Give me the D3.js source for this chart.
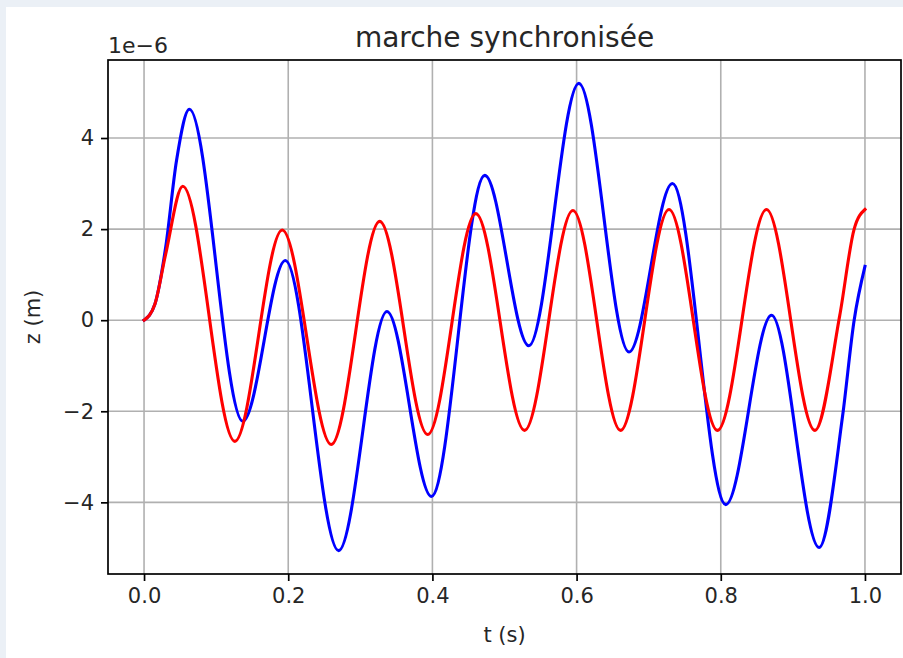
<!DOCTYPE html>
<html>
<head>
<meta charset="utf-8">
<script src="https://cdn.jsdelivr.net/npm/d3@7"></script>
<style>
    html, body { margin: 0; padding: 0; background: #ebf0f6; }
    svg { display: block; }
    text { font-family: "DejaVu Sans", sans-serif; fill: #262626; }
</style>
</head>
<body>
<svg id="chart" width="903" height="658"></svg>
<script>
// 1. Values (z in units of 1e-6 m)
const redT = [0, 0.015, 0.03, 0.0537, 0.126, 0.1917, 0.2597, 0.3269, 0.3935, 0.4602,
              0.5278, 0.5949, 0.661, 0.7282, 0.7954, 0.8634, 0.9306, 0.965, 0.985, 1.0];
const redZ = [0, 0.35, 1.45, 2.94, -2.66, 1.98, -2.73, 2.17, -2.51, 2.34,
              -2.42, 2.41, -2.42, 2.43, -2.42, 2.43, -2.42, 0.1, 2.0, 2.43];

const blueT = [0, 0.015, 0.03, 0.045, 0.0629, 0.137, 0.196, 0.2699, 0.337, 0.3986,
               0.4727, 0.5338, 0.6032, 0.6727, 0.7329, 0.807, 0.8704, 0.9365, 0.969, 0.985, 1.0];
const blueZ = [0, 0.35, 1.6, 3.5, 4.63, -2.22, 1.31, -5.06, 0.19, -3.87,
               3.18, -0.56, 5.20, -0.70, 3.0, -4.05, 0.11, -4.99, -2.1, 0.0, 1.18];

const xTicks = [0, 0.2, 0.4, 0.6, 0.8, 1.0];
const yTicks = [-4, -2, 0, 2, 4];

document.addEventListener("DOMContentLoaded", () => {
    // 2. Layout (pixels)
    const left = 108, right = 901, top = 60, bottom = 574;
    const svg = d3.select("#chart");

    svg.append("rect")
        .attr("x", 6).attr("y", 7)
        .attr("width", 903 - 6).attr("height", 658 - 7)
        .attr("fill", "#ffffff");

    // 3. Scales with matplotlib-like 5% margins
    const pad = ([a, b]) => [a - (b - a) * 0.05, b + (b - a) * 0.05];
    const x = d3.scaleLinear()
        .domain(pad(d3.extent(redT.concat(blueT))))
        .range([left, right]);
    const y = d3.scaleLinear()
        .domain(pad(d3.extent(redZ.concat(blueZ))))
        .range([bottom, top]);

    // 4. Grid
    const grid = svg.append("g").attr("stroke", "#b0b0b0").attr("stroke-width", 1.6);
    grid.selectAll("line.gx").data(xTicks).enter().append("line")
        .attr("x1", d => x(d)).attr("x2", d => x(d))
        .attr("y1", top).attr("y2", bottom);
    grid.selectAll("line.gy").data(yTicks).enter().append("line")
        .attr("x1", left).attr("x2", right)
        .attr("y1", d => y(d)).attr("y2", d => y(d));

    // 5. Curves
    svg.append("clipPath").attr("id", "clip")
        .append("rect").attr("x", left).attr("y", top)
        .attr("width", right - left).attr("height", bottom - top);

    const line = d3.line()
        .x(d => x(d[0]))
        .y(d => y(d[1]))
        .curve(d3.curveMonotoneX);

    const series = [
        { pts: d3.zip(blueT, blueZ), color: "#0000ff" },
        { pts: d3.zip(redT, redZ), color: "#ff0000" }
    ];
    svg.append("g").attr("clip-path", "url(#clip)")
        .selectAll("path").data(series).enter().append("path")
        .attr("d", d => line(d.pts))
        .attr("fill", "none")
        .attr("stroke", d => d.color)
        .attr("stroke-width", 3.1)
        .attr("stroke-linejoin", "round")
        .attr("stroke-linecap", "square");

    // 6. Axes
    const xAxis = svg.append("g")
        .attr("transform", `translate(0,${bottom})`)
        .call(d3.axisBottom(x).tickValues(xTicks).tickFormat(d3.format(".1f"))
            .tickSize(7).tickPadding(7));
    const yAxis = svg.append("g")
        .attr("transform", `translate(${left},0)`)
        .call(d3.axisLeft(y).tickValues(yTicks).tickFormat(d3.format("d"))
            .tickSize(7).tickPadding(7));

    [xAxis, yAxis].forEach(g => {
        g.select(".domain").remove();
        g.selectAll(".tick line").attr("stroke", "#000").attr("stroke-width", 1.7);
        g.selectAll(".tick text")
            .attr("fill", "#262626")
            .style("font-family", "'DejaVu Sans', sans-serif")
            .style("font-size", "21px");
    });

    // spines
    svg.append("rect")
        .attr("x", left).attr("y", top)
        .attr("width", right - left).attr("height", bottom - top)
        .attr("fill", "none").attr("stroke", "#000").attr("stroke-width", 1.7);

    // 7. Text
    svg.append("text")
        .attr("x", (left + right) / 2).attr("y", 47)
        .attr("text-anchor", "middle")
        .style("font-size", "28px")
        .text("marche synchronisée");

    svg.append("text")
        .attr("x", left).attr("y", 53)
        .style("font-size", "22px")
        .text("1e\u22126");

    svg.append("text")
        .attr("x", (left + right) / 2).attr("y", 642)
        .attr("text-anchor", "middle")
        .style("font-size", "21px")
        .text("t (s)");

    svg.append("text")
        .attr("transform", `translate(40,${(top + bottom) / 2}) rotate(-90)`)
        .attr("text-anchor", "middle")
        .style("font-size", "21px")
        .text("z (m)");
});
</script>
</body>
</html>
